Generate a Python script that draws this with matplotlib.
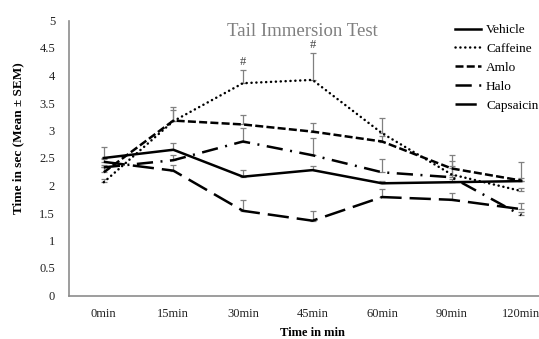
import matplotlib
matplotlib.use("Agg")
import matplotlib.pyplot as plt

plt.rcParams['font.family'] = ['Liberation Serif', 'DejaVu Serif']

categories = ["0min", "15min", "30min", "45min", "60min", "90min", "120min"]
vehicle = [2.50, 2.65, 2.16, 2.28, 2.04, 2.06, 2.08]
caffeine = [2.06, 3.17, 3.86, 3.92, 2.95, 2.20, 1.90]
amlo = [2.24, 3.18, 3.11, 2.98, 2.80, 2.31, 2.09]
halo = [2.33, 2.46, 2.80, 2.55, 2.24, 2.15, 1.46]
capsaicin = [2.43, 2.27, 1.54, 1.36, 1.79, 1.74, 1.57]

vehicle_sem = [0.20, 0.13, 0.13, 0.08, 0.05, 0.05, 0.35]
caffeine_sem = [0.05, 0.25, 0.24, 0.48, 0.27, 0.25, 0.05]
amlo_sem = [0.10, 0.20, 0.17, 0.16, 0.10, 0.24, 0.05]
halo_sem = [0.05, 0.10, 0.24, 0.31, 0.24, 0.21, 0.05]
capsaicin_sem = [0.05, 0.10, 0.20, 0.18, 0.14, 0.12, 0.12]

sig_labels = ["", "", "#", "#", "", "", ""]

series = [
    ("Vehicle", vehicle, vehicle_sem, dict(linestyle='-')),
    ("Caffeine", caffeine, caffeine_sem, dict(linestyle=(0, (0.05, 1.9)), dash_capstyle='round')),
    ("Amlo", amlo, amlo_sem, dict(linestyle=(0, (3.2, 1.3)))),
    ("Halo", halo, halo_sem, dict(linestyle=(0, (6.5, 3.0, 0.8, 3.0)))),
    ("Capsaicin", capsaicin, capsaicin_sem, dict(linestyle=(0, (8.5, 3.2)))),
]

W, H = 539, 339
fig = plt.figure(figsize=(W / 100, H / 100), dpi=100)
ax = fig.add_axes([69 / W, 43.5 / H, (556 - 69) / W, 275 / H])

x = list(range(len(categories)))
handles = []
for name, vals, sem, style in series:
    ax.errorbar(x, vals, yerr=[[0] * len(sem), sem], fmt='none', ecolor='#808080',
                elinewidth=0.9, capsize=2.5, capthick=0.9, zorder=2)
    h, = ax.plot(x, vals, color='black', linewidth=1.8, label=name, zorder=3, **style)
    handles.append(h)

for i, lab in enumerate(sig_labels):
    if lab:
        ax.annotate(lab, (x[i], caffeine[i] + caffeine_sem[i]), xytext=(0, 1.5),
                    textcoords='offset points', ha='center', va='bottom',
                    fontsize=9, color='#404040')

ax.set_xlim(-0.5, len(categories) - 0.5)
ax.set_ylim(0, 5)
ax.set_xticks(x)
ax.set_xticklabels(categories)
ax.set_yticks([0, 0.5, 1, 1.5, 2, 2.5, 3, 3.5, 4, 4.5, 5])
ax.set_yticklabels(["0", "0.5", "1", "1.5", "2", "2.5", "3", "3.5", "4", "4.5", "5"])
ax.tick_params(axis='both', length=0, labelsize=9, colors='#222222')
ax.tick_params(axis='x', pad=9)
ax.tick_params(axis='y', pad=10)
for s in ['top', 'right']:
    ax.spines[s].set_visible(False)
for s in ['left', 'bottom']:
    ax.spines[s].set_color('#8c8c8c')
    ax.spines[s].set_linewidth(1.2)

fig.text(302 / W, 1 - 31 / H, "Tail Immersion Test", ha='center', va='center',
         fontsize=13.5, color='#7f7f7f')
fig.text(18 / W, 1 - 138 / H, "Time in sec (Mean ± SEM)", rotation=90, ha='center',
         va='center', fontsize=9.5, fontweight='bold')
fig.text(312 / W, 1 - 333 / H, "Time in min", ha='center', va='center',
         fontsize=9, fontweight='bold')

leg = fig.legend(handles=handles, loc='upper left', bbox_to_anchor=(455 / W, 1 - 24 / H),
                 frameon=False, fontsize=9.5, handlelength=2.0, handletextpad=0.35,
                 labelspacing=0.5, borderaxespad=0, borderpad=0)

fig.savefig("out.png", dpi=100)
